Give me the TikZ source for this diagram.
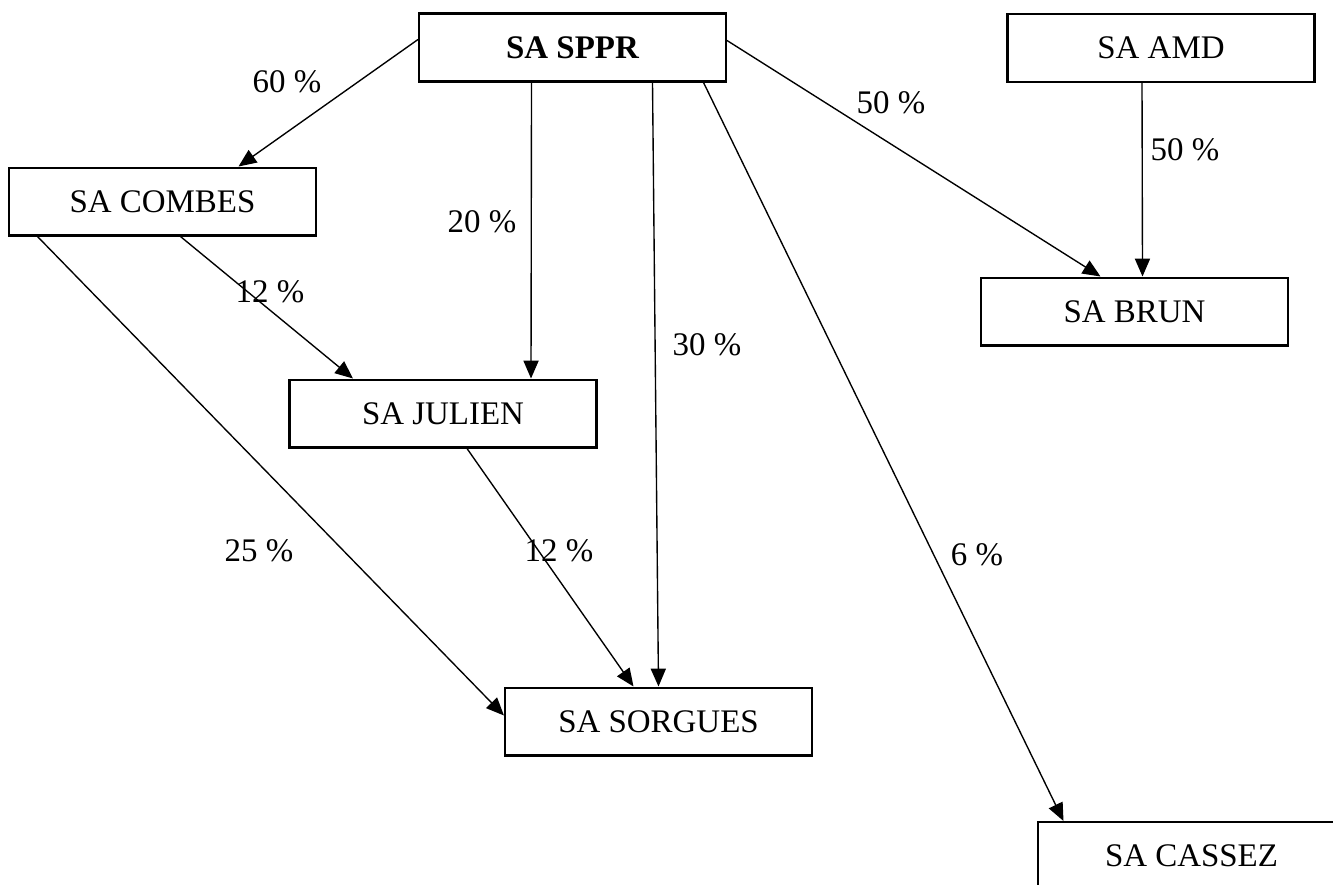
\documentclass[tikz,border=0pt]{standalone}
\usepackage{fontspec}
\setmainfont{Liberation Serif}
\usepackage{tikz}
\usetikzlibrary{
  arrows.meta,
  positioning,
  calc
}
\definecolor{boxcolor}{RGB}{0, 0, 0}
\definecolor{arrowcolor}{RGB}{0, 0, 0}
\definecolor{labelcolor}{RGB}{0, 0, 0}
\tikzset{
boxtext/.style={
  align=center,
  font=\fontsize{12pt}{14pt}\selectfont,
  text=labelcolor
},
entitybox/.style={
  draw=boxcolor,
  line width=0.75pt,
  fill=white,
  minimum height=0.87cm,
  minimum width=3.93cm,
  inner sep=0pt,
  boxtext
},
headbox/.style={
  entitybox,
  font=\fontsize{12pt}{14pt}\selectfont\bfseries
},
pctlabel/.style={
  font=\fontsize{12pt}{14pt}\selectfont,
  text=labelcolor,
  inner sep=1pt
},
arrow/.style={
  -{Triangle[length=6.5pt,width=5.5pt]},
  line width=0.5pt,
  draw=arrowcolor
}
}

\begin{document}
\begin{tikzpicture}[x=0.0128cm, y=-0.0128cm]
        \useasboundingbox (0,0) rectangle (1333,884);
        \clip (0,0) rectangle (1333,884);

        \node[headbox] (sppr) at (572.5,47.5) {SA SPPR};
        \node[entitybox] (amd) at (1161,48) {SA AMD};
        \node[entitybox] (combes) at (162.5,201.5) {SA COMBES};
        \node[entitybox] (brun) at (1134.5,311.5) {SA BRUN};
        \node[entitybox] (julien) at (443,413.5) {SA JULIEN};
        \node[entitybox] (sorgues) at (658.5,721.5) {SA SORGUES};
        \node[entitybox] (cassez) at (1191.5,856) {SA CASSEZ};

        \draw[arrow] ($(sppr.west)+(0,-8)$) -- ($(combes.north)+(76,0)$);
        \draw[arrow] ($(sppr.south)+(-41,0)$) -- ($(julien.north)+(88,0)$);
        \draw[arrow] ($(sppr.south)+(80,0)$) -- (sorgues.north);
        \draw[arrow] ($(sppr.south)+(131,0)$) -- ($(cassez.north)+(-128,0)$);
        \draw[arrow] ($(sppr.east)+(0,-7)$) -- ($(brun.north)+(-34,0)$);
        \draw[arrow] ($(amd.south)+(-19,0)$) -- ($(brun.north)+(8,0)$);
        \draw[arrow] ($(combes.south)+(18,0)$) -- ($(julien.north)+(-90,0)$);
        \draw[arrow] ($(combes.south)+(-125,0)$) -- ($(sorgues.west)+(0,-6)$);
        \draw[arrow] ($(julien.south)+(24,0)$) -- ($(sorgues.north)+(-25,0)$);

        \node[pctlabel] (pcombes) at (287,82) {60 \%};
        \node[pctlabel] (pjulien) at (482,222) {20 \%};
        \node[pctlabel] (psorgues) at (707,345) {30 \%};
        \node[pctlabel] (pcassez) at (977,555) {6 \%};
        \node[pctlabel] (pbrun) at (891,103) {50 \%};
        \node[pctlabel] (pamd) at (1185,150) {50 \%};
        \node[pctlabel] (pcj) at (270,292) {12 \%};
        \node[pctlabel] (pcs) at (259,551) {25 \%};
        \node[pctlabel] (pjs) at (559,551) {12 \%};
      \end{tikzpicture}
\end{document}
